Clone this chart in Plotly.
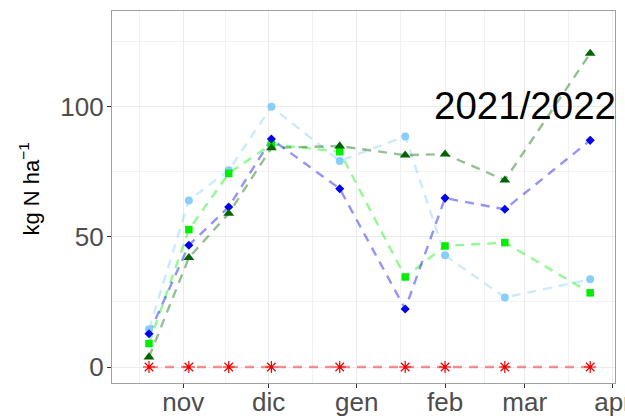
import datetime as dt
import plotly.graph_objects as go

# Sampling dates (season 2021/2022)
dates = ["2021-10-20", "2021-11-03", "2021-11-17", "2021-12-02", "2021-12-26",
         "2022-01-18", "2022-02-01", "2022-02-22", "2022-03-24"]

# Nitrogen (kg N/ha) per treatment
serie_azzurro = [14.5, 64, 75.6, 100, 79.2, 88.6, 42.9, 26.7, 33.7]
serie_blu = [12.8, 46.8, 61.5, 87.6, 68.5, 22.3, 64.9, 60.6, 87.1]
serie_verde = [9, 52.8, 74.4, 85.6, 82.7, 34.6, 46.5, 47.8, 28.5]
serie_verde_scuro = [3.8, 42, 59, 84.2, 84.9, 81.4, 81.8, 71.8, 120.5]
serie_rosso = [0, 0, 0, 0, 0, 0, 0, 0, 0]

month_ticks = ["2021-11-01", "2021-12-01", "2022-01-01", "2022-02-01",
               "2022-03-01", "2022-04-01"]
month_labels = ["nov", "dic", "gen", "feb", "mar", "apr"]

series = [
    ("trattamento 1", serie_azzurro, "#87CEFA", "rgba(135,206,250,0.42)", "circle", 8),
    ("trattamento 2", serie_verde, "#00EE00", "rgba(0,238,0,0.42)", "square", 7.5),
    ("trattamento 3", serie_blu, "#0000EE", "rgba(0,0,238,0.42)", "diamond", 7),
    ("trattamento 4", serie_verde_scuro, "#006400", "rgba(0,100,0,0.42)", "triangle-up", 9.5),
    ("controllo", serie_rosso, "#EE0000", "rgba(238,0,0,0.42)", "asterisk-open", 10),
]

fig = go.Figure()

# dashed connecting lines first, so every marker sits above them
for name, vals, mcol, lcol, sym, size in series:
    fig.add_trace(go.Scatter(
        x=dates, y=vals, mode="lines", name=name, showlegend=False,
        line=dict(color=lcol, width=2.4, dash="9px,7px"), hoverinfo="skip"))

for name, vals, mcol, lcol, sym, size in series:
    marker = dict(symbol=sym, size=size, color=mcol, line=dict(width=0))
    if sym == "asterisk-open":
        marker["line"] = dict(color=mcol, width=1.2)
    fig.add_trace(go.Scatter(
        x=dates, y=vals, mode="markers", name=name, showlegend=False,
        marker=marker))

# minor grid halfway between month starts
def midpoint(a, b):
    da = dt.datetime.fromisoformat(a)
    db = dt.datetime.fromisoformat(b)
    return (da + (db - da) / 2).isoformat()

starts = ["2021-10-01"] + month_ticks
minor_vals = [midpoint(starts[i], starts[i + 1]) for i in range(len(starts) - 1)]

font_family = "Liberation Sans, Arial, Helvetica, sans-serif"

fig.update_layout(
    width=625, height=416,
    margin=dict(l=112, r=10, t=11, b=33),
    paper_bgcolor="white", plot_bgcolor="white",
    font=dict(family=font_family, color="#4D4D4D"),
    xaxis=dict(
        type="date", automargin=False,
        range=["2021-10-07", "2022-04-01 17:00"],
        tickvals=month_ticks, ticktext=month_labels,
        ticklabeloverflow="allow", ticklabelstandoff=-8,
        tickfont=dict(size=26, color="#4D4D4D"),
        ticks="outside", ticklen=4, tickcolor="#333333", tickwidth=1,
        showgrid=True, gridcolor="#EBEBEB", gridwidth=1,
        minor=dict(tickvals=minor_vals, showgrid=True, gridcolor="#F2F2F2",
                   gridwidth=0.8, ticks=""),
        showline=True, linecolor="#A0A0A0", linewidth=1.2, mirror=True,
        zeroline=False,
    ),
    yaxis=dict(
        automargin=False,
        range=[-6.15, 136.8],
        tickvals=[0, 50, 100],
        ticklabelstandoff=-2,
        tickfont=dict(size=26, color="#4D4D4D"),
        ticks="outside", ticklen=4, tickcolor="#333333", tickwidth=1,
        showgrid=True, gridcolor="#EBEBEB", gridwidth=1,
        minor=dict(tick0=0, dtick=25, showgrid=True, gridcolor="#F2F2F2",
                   gridwidth=0.8, ticks=""),
        showline=True, linecolor="#A0A0A0", linewidth=1.2, mirror=True,
        zeroline=False,
    ),
    annotations=[
        dict(text="kg N ha<sup>\u22121</sup>", textangle=-90,
             xref="paper", yref="paper", x=-0.165, y=0.52,
             xanchor="center", yanchor="middle", showarrow=False,
             font=dict(size=22, color="black", family=font_family)),
        dict(text="2021/2022", xref="paper", yref="paper", x=1.006, y=0.745,
             xanchor="right", yanchor="middle", showarrow=False,
             font=dict(size=38.5, color="black", family=font_family)),
    ],
)

fig.write_html("out.html")
